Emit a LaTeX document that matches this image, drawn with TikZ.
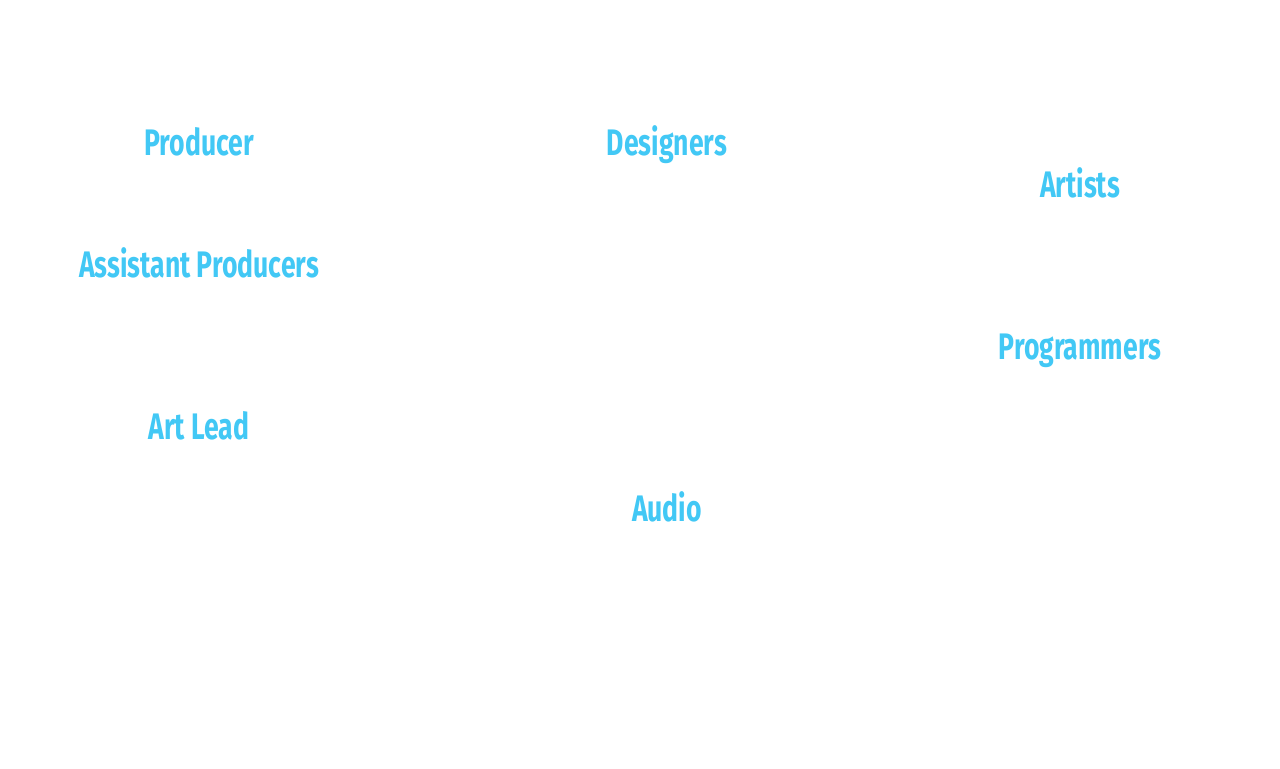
\documentclass[tikz,border=0pt]{standalone}
\usepackage{fontspec}
\setmainfont{Fira Sans}[FakeStretch=0.72]
\usepackage{xcolor}
\definecolor{skyblue}{RGB}{66,200,245}

\begin{document}
\begin{tikzpicture}[x=1mm,y=-1mm,
  team/.style={anchor=base,inner sep=0pt,text=skyblue,font=\fontsize{10.5}{12}\selectfont\bfseries}]
  \useasboundingbox (0,0) rectangle (128,76.8);
  % left column
  \node[team] (producer) at(19.9,15.5){Producer};
  \node[team] (assist) at(19.9,27.7){Assistant Producers};
  \node[team] (artlead) at(19.9,43.9){Art Lead};
  % middle column
  \node[team] (designers) at(66.7,15.5){Designers};
  \node[team] (audio) at(66.7,52.1){Audio};
  % right column
  \node[team] (artists) at(108,19.7){Artists};
  \node[team] (programmers) at(108,35.9){Programmers};
\end{tikzpicture}
\end{document}
